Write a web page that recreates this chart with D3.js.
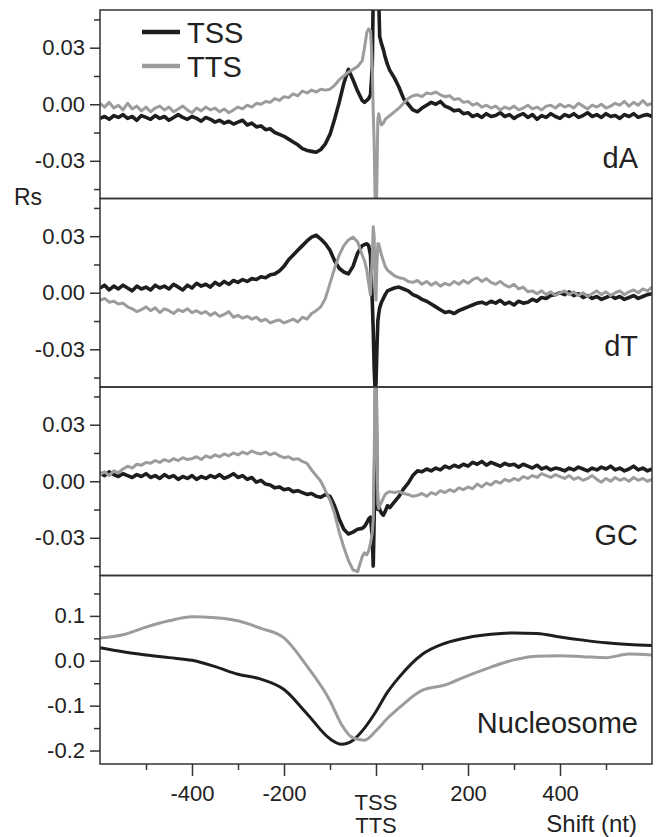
<!DOCTYPE html>
<html>
<head>
<meta charset="utf-8">
<script src="https://cdn.jsdelivr.net/npm/d3@7"></script>
<style>
  body { margin: 0; background: #fff; }
  text { font-family: "Liberation Sans", Arial, sans-serif; fill: #222; }
</style>
</head>
<body>
<div id="chart"></div>
<script>
// Shift positions (nt) for the dA / dT / GC profiles: 10 nt steps, finer round the TSS / TTS
var shiftCenter = [-25, -20, -16, -12, -8, -6, -4, -2, 0, 2, 4, 6, 8, 12, 16, 20, 25];
var shift = d3.range(-600, -29, 10).concat(shiftCenter, d3.range(30, 601, 10));

// dA
var dA_TSS = [
  -0.0075, -0.0065, -0.0080, -0.0060, -0.0070, -0.0055, -0.0075, -0.0065, -0.0085, -0.0060,
  -0.0070, -0.0080, -0.0060, -0.0075, -0.0065, -0.0085, -0.0070, -0.0055, -0.0070, -0.0080,
  -0.0065, -0.0075, -0.0090, -0.0070, -0.0080, -0.0095, -0.0085, -0.0100, -0.0090, -0.0105,
  -0.0095, -0.0085, -0.0110, -0.0100, -0.0120, -0.0115, -0.0135, -0.0130, -0.0150, -0.0160,
  -0.0170, -0.0185, -0.0200, -0.0215, -0.0235, -0.0245, -0.0250, -0.0255, -0.0240, -0.0210,
  -0.0160, -0.0080, 0.0010, 0.0110, 0.0185, 0.0130, 0.0070, 0.0020,
  0.0010, 0.0020, 0.0030, 0.0050, 0.0200, 0.0600, 0.0700, 0.0700, 0.0650, 0.0650,
  0.0600, 0.0550, 0.0360, 0.0320, 0.0290, 0.0250, 0.0210,
  0.0180, 0.0140, 0.0090, 0.0030, 0.0000, -0.0030, -0.0040, -0.0020, -0.0005, 0.0010,
  0.0000, 0.0015, -0.0010, -0.0020, -0.0035, -0.0030, -0.0050, -0.0045, -0.0065, -0.0055,
  -0.0070, -0.0050, -0.0065, -0.0060, -0.0045, -0.0065, -0.0055, -0.0075, -0.0060, -0.0050,
  -0.0070, -0.0055, -0.0080, -0.0060, -0.0070, -0.0050, -0.0065, -0.0075, -0.0055, -0.0065,
  -0.0050, -0.0070, -0.0060, -0.0045, -0.0065, -0.0055, -0.0070, -0.0050, -0.0065, -0.0060,
  -0.0075, -0.0055, -0.0065, -0.0050, -0.0070, -0.0060, -0.0055, -0.0065
];
var dA_TTS = [
  0.0005, -0.0015, 0.0010, -0.0020, -0.0005, -0.0030, 0.0005, -0.0025, -0.0010, -0.0035,
  -0.0015, -0.0040, -0.0020, -0.0010, -0.0030, -0.0015, -0.0040, -0.0025, -0.0010, -0.0030,
  -0.0045, -0.0020, -0.0035, -0.0015, -0.0030, -0.0020, -0.0040, -0.0025, -0.0045, -0.0030,
  -0.0015, -0.0025, -0.0005, -0.0015, 0.0005, 0.0000, 0.0015, 0.0010, 0.0030, 0.0020,
  0.0040, 0.0035, 0.0055, 0.0045, 0.0070, 0.0060, 0.0075, 0.0065, 0.0080, 0.0075,
  0.0080, 0.0100, 0.0130, 0.0150, 0.0170, 0.0185, 0.0200, 0.0230,
  0.0300, 0.0380, 0.0400, 0.0390, 0.0200, -0.0050, -0.0200, -0.0500, -0.0650, -0.0400,
  -0.0080, -0.0050, -0.0080, -0.0110, -0.0100, -0.0080, -0.0070,
  -0.0060, -0.0040, -0.0020, 0.0005, 0.0030, 0.0045, 0.0050, 0.0040, 0.0060, 0.0055,
  0.0065, 0.0050, 0.0040, 0.0045, 0.0025, 0.0030, 0.0010, 0.0015, -0.0005, 0.0005,
  -0.0015, -0.0005, -0.0020, -0.0010, -0.0030, -0.0015, -0.0025, -0.0010, -0.0030, -0.0020,
  -0.0005, -0.0025, -0.0015, -0.0030, -0.0010, -0.0005, -0.0020, 0.0000, -0.0015, -0.0005,
  -0.0020, 0.0005, -0.0010, -0.0025, -0.0005, -0.0015, 0.0000, -0.0020, -0.0010, 0.0005,
  -0.0005, 0.0015, -0.0010, 0.0010, -0.0005, 0.0020, -0.0005, 0.0005
];

// dT
var dT_TSS = [
  0.0025, 0.0040, 0.0015, 0.0035, 0.0020, 0.0040, 0.0025, 0.0010, 0.0035, 0.0020,
  0.0030, 0.0015, 0.0040, 0.0025, 0.0035, 0.0020, 0.0045, 0.0030, 0.0015, 0.0040,
  0.0025, 0.0050, 0.0035, 0.0045, 0.0030, 0.0055, 0.0040, 0.0060, 0.0045, 0.0065,
  0.0055, 0.0070, 0.0060, 0.0075, 0.0070, 0.0085, 0.0080, 0.0095, 0.0100, 0.0115,
  0.0140, 0.0175, 0.0200, 0.0225, 0.0250, 0.0275, 0.0295, 0.0305, 0.0285, 0.0260,
  0.0225, 0.0170, 0.0130, 0.0110, 0.0100, 0.0140, 0.0210, 0.0250,
  0.0255, 0.0260, 0.0250, 0.0200, -0.0050, -0.0200, -0.0400, -0.0520, -0.0480, -0.0300,
  -0.0150, -0.0110, -0.0080, -0.0050, -0.0030, -0.0010, 0.0010,
  0.0015, 0.0025, 0.0030, 0.0020, 0.0010, -0.0010, -0.0020, -0.0035, -0.0045, -0.0060,
  -0.0075, -0.0090, -0.0105, -0.0100, -0.0110, -0.0095, -0.0085, -0.0075, -0.0065, -0.0055,
  -0.0050, -0.0060, -0.0045, -0.0055, -0.0040, -0.0060, -0.0050, -0.0065, -0.0045, -0.0055,
  -0.0050, -0.0035, -0.0045, -0.0025, -0.0030, -0.0015, -0.0010, 0.0000, -0.0010, 0.0005,
  -0.0015, -0.0005, -0.0025, -0.0015, -0.0030, -0.0020, -0.0035, -0.0025, -0.0015, -0.0030,
  -0.0020, -0.0035, -0.0025, -0.0015, -0.0030, -0.0020, -0.0010, -0.0005
];
var dT_TTS = [
  -0.0040, -0.0030, -0.0050, -0.0045, -0.0060, -0.0055, -0.0075, -0.0085, -0.0100, -0.0090,
  -0.0075, -0.0095, -0.0080, -0.0105, -0.0085, -0.0095, -0.0110, -0.0090, -0.0100, -0.0085,
  -0.0105, -0.0095, -0.0110, -0.0100, -0.0120, -0.0105, -0.0125, -0.0115, -0.0100, -0.0130,
  -0.0120, -0.0135, -0.0125, -0.0140, -0.0130, -0.0150, -0.0140, -0.0160, -0.0150, -0.0145,
  -0.0160, -0.0150, -0.0140, -0.0155, -0.0130, -0.0140, -0.0110, -0.0095, -0.0075, -0.0030,
  0.0050, 0.0130, 0.0200, 0.0250, 0.0280, 0.0295, 0.0270, 0.0200,
  0.0170, 0.0120, 0.0050, -0.0010, 0.0200, 0.0350, 0.0300, 0.0050, -0.0040, 0.0150,
  0.0260, 0.0260, 0.0240, 0.0200, 0.0170, 0.0140, 0.0120,
  0.0110, 0.0090, 0.0080, 0.0075, 0.0060, 0.0055, 0.0065, 0.0045, 0.0060, 0.0040,
  0.0055, 0.0035, 0.0050, 0.0040, 0.0060, 0.0045, 0.0065, 0.0050, 0.0070, 0.0080,
  0.0060, 0.0075, 0.0055, 0.0045, 0.0060, 0.0040, 0.0030, 0.0045, 0.0020, 0.0030,
  0.0005, 0.0010, -0.0005, 0.0010, -0.0010, 0.0005, -0.0015, 0.0000, 0.0010, -0.0010,
  0.0005, -0.0015, 0.0000, -0.0020, -0.0005, 0.0010, -0.0010, 0.0005, -0.0015, 0.0000,
  0.0010, -0.0010, 0.0005, 0.0015, 0.0000, 0.0020, 0.0010, 0.0030
];

// GC
var GC_TSS = [
  0.0045, 0.0030, 0.0050, 0.0035, 0.0025, 0.0040, 0.0030, 0.0020, 0.0035, 0.0025,
  0.0040, 0.0020, 0.0030, 0.0015, 0.0035, 0.0020, 0.0030, 0.0010, 0.0025, 0.0015,
  0.0030, 0.0010, 0.0025, 0.0015, 0.0030, 0.0020, 0.0035, 0.0015, 0.0025, 0.0040,
  0.0020, 0.0030, 0.0010, 0.0020, -0.0005, 0.0005, -0.0015, -0.0020, -0.0035, -0.0030,
  -0.0045, -0.0040, -0.0055, -0.0050, -0.0060, -0.0070, -0.0065, -0.0080, -0.0085, -0.0070,
  -0.0080, -0.0130, -0.0200, -0.0255, -0.0280, -0.0270, -0.0255, -0.0250,
  -0.0240, -0.0220, -0.0200, -0.0190, -0.0300, -0.0450, -0.0200, 0.0300, 0.0600, 0.0000,
  -0.0150, -0.0130, -0.0150, -0.0170, -0.0180, -0.0160, -0.0130,
  -0.0140, -0.0110, -0.0080, -0.0040, -0.0010, 0.0030, 0.0055, 0.0050, 0.0065, 0.0055,
  0.0070, 0.0060, 0.0080, 0.0070, 0.0085, 0.0075, 0.0090, 0.0080, 0.0100, 0.0090,
  0.0105, 0.0085, 0.0100, 0.0090, 0.0080, 0.0095, 0.0085, 0.0090, 0.0075, 0.0090,
  0.0080, 0.0070, 0.0085, 0.0065, 0.0075, 0.0060, 0.0070, 0.0065, 0.0055, 0.0070,
  0.0060, 0.0075, 0.0065, 0.0055, 0.0070, 0.0060, 0.0075, 0.0065, 0.0080, 0.0060,
  0.0070, 0.0055, 0.0065, 0.0080, 0.0060, 0.0070, 0.0055, 0.0065
];
var GC_TTS = [
  0.0035, 0.0050, 0.0030, 0.0055, 0.0045, 0.0065, 0.0080, 0.0070, 0.0090, 0.0085,
  0.0100, 0.0095, 0.0110, 0.0100, 0.0115, 0.0105, 0.0120, 0.0110, 0.0125, 0.0115,
  0.0120, 0.0130, 0.0115, 0.0135, 0.0125, 0.0140, 0.0130, 0.0145, 0.0135, 0.0150,
  0.0140, 0.0155, 0.0145, 0.0160, 0.0150, 0.0145, 0.0155, 0.0140, 0.0150, 0.0135,
  0.0125, 0.0130, 0.0115, 0.0120, 0.0105, 0.0095, 0.0060, 0.0030, 0.0000, -0.0050,
  -0.0100, -0.0170, -0.0270, -0.0350, -0.0420, -0.0470, -0.0480, -0.0400,
  -0.0380, -0.0390, -0.0370, -0.0330, -0.0270, -0.0200, 0.0100, 0.0600, 0.0700, 0.0200,
  -0.0120, -0.0145, -0.0130, -0.0110, -0.0090, -0.0070, -0.0060,
  -0.0055, -0.0060, -0.0055, -0.0065, -0.0070, -0.0080, -0.0075, -0.0065, -0.0080, -0.0060,
  -0.0070, -0.0050, -0.0060, -0.0045, -0.0055, -0.0035, -0.0045, -0.0030, -0.0040, -0.0015,
  -0.0030, -0.0010, -0.0020, 0.0000, -0.0010, 0.0010, 0.0000, 0.0015, 0.0005, 0.0025,
  0.0015, 0.0030, 0.0020, 0.0040, 0.0030, 0.0020, 0.0035, 0.0025, 0.0015, 0.0030,
  0.0010, 0.0020, 0.0005, 0.0015, 0.0030, 0.0010, -0.0005, 0.0015, 0.0000, 0.0020,
  0.0005, 0.0015, 0.0000, 0.0020, 0.0005, 0.0015, 0.0000, 0.0010
];

// Nucleosome occupancy (smooth)
var nucShift = [-600, -550, -500, -450, -400, -350, -300, -250, -200, -150, -100, -75, -50, -25,
                0, 25, 50, 100, 150, 200, 250, 300, 350, 400, 450, 500, 550, 600];
var nuc_TSS = [0.029, 0.020, 0.013, 0.007, 0.001, -0.013, -0.030, -0.041, -0.064, -0.118, -0.174, -0.186, -0.177, -0.150,
               -0.113, -0.070, -0.037, 0.014, 0.039, 0.052, 0.059, 0.062, 0.061, 0.053, 0.046, 0.040, 0.036, 0.034];
var nuc_TTS = [0.051, 0.058, 0.075, 0.089, 0.098, 0.096, 0.089, 0.072, 0.051, -0.012, -0.089, -0.142, -0.172, -0.177,
               -0.156, -0.128, -0.105, -0.066, -0.054, -0.033, -0.014, 0.002, 0.010, 0.011, 0.009, 0.007, 0.015, 0.013];

var seriesNames = ["TSS", "TTS"];
var seriesColors = ["#1e1e1e", "#9c9c9c"];

var svgWidth = 657, svgHeight = 837;
var margin = { top: 10, left: 100, right: 5 };
var panelHeight = 188.5;
var chartWidth = svgWidth - margin.left - margin.right;

var panels = [
  { name: "dA", x: shift, series: [dA_TSS, dA_TTS], domain: [-0.05, 0.05], major: [-0.03, 0, 0.03], minor: [-0.045, -0.015, 0.015, 0.045], digits: 2, curve: d3.curveLinear, widths: [3.6, 3] },
  { name: "dT", x: shift, series: [dT_TSS, dT_TTS], domain: [-0.05, 0.05], major: [-0.03, 0, 0.03], minor: [-0.045, -0.015, 0.015, 0.045], digits: 2, curve: d3.curveLinear, widths: [3.6, 3] },
  { name: "GC", x: shift, series: [GC_TSS, GC_TTS], domain: [-0.05, 0.05], major: [-0.03, 0, 0.03], minor: [-0.045, -0.015, 0.015, 0.045], digits: 2, curve: d3.curveLinear, widths: [3.6, 3] },
  { name: "Nucleosome", x: nucShift, series: [nuc_TSS, nuc_TTS], domain: [-0.23, 0.19], major: [-0.2, -0.1, 0, 0.1], minor: [-0.15, -0.05, 0.05, 0.15], digits: 1, curve: d3.curveMonotoneX, widths: [3, 3] }
];

var svg = d3.select("#chart")
  .append("svg")
  .attr("width", svgWidth)
  .attr("height", svgHeight);

var xScale = d3.scaleLinear()
  .domain([-600, 600])
  .range([0, chartWidth]);

panels.forEach(function (p, i) {
  var top = margin.top + i * panelHeight;
  var g = svg.append("g")
    .attr("transform", `translate(${margin.left}, ${top})`);

  var yScale = d3.scaleLinear()
    .domain(p.domain)
    .range([panelHeight, 0]);

  g.append("clipPath")
    .attr("id", "clip" + i)
    .append("rect")
    .attr("width", chartWidth)
    .attr("height", panelHeight);

  // left ticks, major with labels and minor without
  var major = g.append("g")
    .call(d3.axisLeft(yScale).tickValues(p.major).tickSize(10).tickPadding(5)
      .tickFormat(d => d.toFixed(p.digits)));
  var minor = g.append("g")
    .call(d3.axisLeft(yScale).tickValues(p.minor).tickSize(6).tickFormat(""));
  [major, minor].forEach(function (a) {
    a.select(".domain").remove();
    a.selectAll("line").attr("stroke", "#333").attr("stroke-width", 1.5);
    a.selectAll("text").style("font-size", "22px").attr("fill", "#222");
  });

  var lineGroup = g.append("g").attr("clip-path", `url(#clip${i})`);
  p.series.forEach(function (vals, s) {
    var line = d3.line()
      .x((d, k) => xScale(p.x[k]))
      .y(d => yScale(d))
      .curve(p.curve);
    lineGroup.append("path")
      .datum(vals)
      .attr("d", line)
      .attr("fill", "none")
      .attr("stroke", seriesColors[s])
      .attr("stroke-width", p.widths[s])
      .attr("stroke-linejoin", "round");
  });

  g.append("rect")
    .attr("width", chartWidth)
    .attr("height", panelHeight)
    .attr("fill", "none")
    .attr("stroke", "#333")
    .attr("stroke-width", 1.5);

  g.append("text")
    .attr("x", chartWidth - 14)
    .attr("y", panelHeight - 31)
    .attr("text-anchor", "end")
    .style("font-size", "29px")
    .text(p.name);

  if (i === panels.length - 1) {
    var bottom = g.append("g")
      .attr("transform", `translate(0, ${panelHeight})`)
      .call(d3.axisBottom(xScale).tickValues([-400, -200, 0, 200, 400]).tickSize(12).tickPadding(9)
        .tickFormat(d => d === 0 ? "" : d));
    var bottomMinor = g.append("g")
      .attr("transform", `translate(0, ${panelHeight})`)
      .call(d3.axisBottom(xScale).tickValues([-500, -300, -100, 100, 300, 500]).tickSize(6).tickFormat(""));
    [bottom, bottomMinor].forEach(function (a) {
      a.select(".domain").remove();
      a.selectAll("line").attr("stroke", "#333").attr("stroke-width", 1.5);
      a.selectAll("text").style("font-size", "22px").attr("fill", "#222");
    });
    g.append("text")
      .attr("x", xScale(0))
      .attr("y", panelHeight + 46)
      .attr("text-anchor", "middle")
      .style("font-size", "22px")
      .text("TSS");
    g.append("text")
      .attr("x", xScale(0))
      .attr("y", panelHeight + 69)
      .attr("text-anchor", "middle")
      .style("font-size", "22px")
      .text("TTS");
    g.append("text")
      .attr("x", chartWidth - 15)
      .attr("y", panelHeight + 68)
      .attr("text-anchor", "end")
      .style("font-size", "24px")
      .text("Shift (nt)");
  }
});

// y axis title
svg.append("text")
  .attr("x", 14)
  .attr("y", 205)
  .style("font-size", "23px")
  .text("Rs");

// legend
var legend = svg.append("g").attr("transform", "translate(142, 32)");
seriesNames.forEach(function (name, s) {
  legend.append("line")
    .attr("x1", 0).attr("x2", 38)
    .attr("y1", s * 34).attr("y2", s * 34)
    .attr("stroke", seriesColors[s])
    .attr("stroke-width", 4.5);
  legend.append("text")
    .attr("x", 45)
    .attr("y", s * 34 + 11)
    .style("font-size", "29px")
    .text(name);
});
</script>
</body>
</html>
